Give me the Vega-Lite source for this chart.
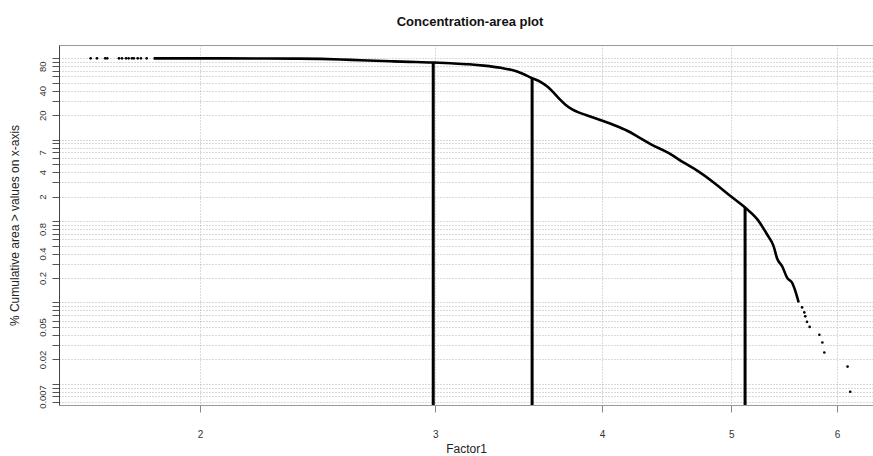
{
  "$schema": "https://vega.github.io/schema/vega-lite/v6.json",
  "width": 814,
  "height": 360,
  "autosize": "none",
  "padding": {"left": 59, "top": 45, "right": 0, "bottom": 51},
  "background": "white",
  "title": {"text": "Concentration-area plot", "font": "Liberation Sans", "fontSize": 13, "fontWeight": "bold", "color": "#111", "anchor": "middle", "dx": 4, "offset": 16},
  "config": {"view": {"stroke": "#9a9a9a", "strokeWidth": 1}, "font": "Liberation Sans"},
  "datasets": {
    "curve": [
      {"x": 1.846, "y": 99.99}, {"x": 1.9, "y": 99.98}, {"x": 2.0, "y": 99.95}, {"x": 2.083, "y": 99.9},
      {"x": 2.22, "y": 99.7}, {"x": 2.35, "y": 99.3}, {"x": 2.462, "y": 98.5}, {"x": 2.55, "y": 97.0},
      {"x": 2.638, "y": 94.8}, {"x": 2.792, "y": 91.9}, {"x": 2.9, "y": 90.2}, {"x": 2.99, "y": 89.0},
      {"x": 3.082, "y": 87.0}, {"x": 3.18, "y": 84.5}, {"x": 3.262, "y": 81.5}, {"x": 3.36, "y": 76.5},
      {"x": 3.455, "y": 69.1}, {"x": 3.546, "y": 57.2}, {"x": 3.6, "y": 51.0},
      {"x": 3.64, "y": 45.0}, {"x": 3.68, "y": 38.0}, {"x": 3.715, "y": 32.0}, {"x": 3.756, "y": 27.0},
      {"x": 3.8, "y": 23.6}, {"x": 3.85, "y": 21.4}, {"x": 3.92, "y": 19.3},
      {"x": 3.998, "y": 17.2}, {"x": 4.09, "y": 15.0}, {"x": 4.178, "y": 12.9}, {"x": 4.26, "y": 10.8},
      {"x": 4.35, "y": 8.85}, {"x": 4.502, "y": 6.67}, {"x": 4.6, "y": 5.3},
      {"x": 4.714, "y": 4.18}, {"x": 4.85, "y": 2.99}, {"x": 4.99, "y": 2.05}, {"x": 5.12, "y": 1.47},
      {"x": 5.23, "y": 1.05}, {"x": 5.32, "y": 0.68}, {"x": 5.378, "y": 0.494}, {"x": 5.41, "y": 0.35},
      {"x": 5.458, "y": 0.279}, {"x": 5.506, "y": 0.2006}, {"x": 5.553, "y": 0.175}, {"x": 5.584, "y": 0.138},
      {"x": 5.616, "y": 0.1}
    ],
    "dots": [
      {"x": 1.656, "y": 100}, {"x": 1.674, "y": 100}, {"x": 1.698, "y": 100}, {"x": 1.704, "y": 100},
      {"x": 1.739, "y": 100}, {"x": 1.748, "y": 100}, {"x": 1.76, "y": 100}, {"x": 1.768, "y": 100},
      {"x": 1.778, "y": 100}, {"x": 1.784, "y": 100}, {"x": 1.796, "y": 100}, {"x": 1.806, "y": 100},
      {"x": 1.824, "y": 100},
      {"x": 5.649, "y": 0.087}, {"x": 5.671, "y": 0.0756}, {"x": 5.68, "y": 0.0676}, {"x": 5.697, "y": 0.0578},
      {"x": 5.723, "y": 0.0501}, {"x": 5.82, "y": 0.0402}, {"x": 5.85, "y": 0.0322}, {"x": 5.87, "y": 0.0243},
      {"x": 6.11, "y": 0.0163}, {"x": 6.138, "y": 0.008}
    ],
    "thresholds": [
      {"x": 2.99, "y": 89.0}, {"x": 3.546, "y": 57.2}, {"x": 5.12, "y": 1.47}
    ]
  },
  "encoding": {
    "x": {
      "field": "x", "type": "quantitative",
      "scale": {"type": "log", "domain": [1.568, 6.384], "nice": false},
      "axis": {
        "values": [2, 3, 4, 5, 6], "format": "~g", "grid": true, "gridDash": [1, 2], "gridColor": "#b5b5b5",
        "domain": false, "tickColor": "#888", "tickSize": 7, "labelFontSize": 10, "labelColor": "#333",
        "labelPadding": 17, "labelFlush": false, "labelOverlap": false,
        "title": "Factor1", "titleFontSize": 12, "titleFontWeight": "normal", "titleColor": "#222", "titlePadding": 4
      }
    },
    "y": {
      "field": "y", "type": "quantitative",
      "scale": {"type": "log", "domain": [0.0055, 146], "nice": false},
      "axis": {
        "values": [0.006,0.007,0.008,0.009,0.01,0.02,0.03,0.04,0.05,0.06,0.07,0.08,0.09,0.1,0.2,0.3,0.4,0.5,0.6,0.7,0.8,0.9,1,2,3,4,5,6,7,8,9,10,20,30,40,50,60,70,80,90,100],
        "labelExpr": "indexof([0.007,0.02,0.05,0.2,0.4,0.8,2,4,7,20,40,80], datum.value) >= 0 ? format(datum.value, '~g') : ''",
        "grid": true, "gridDash": [1, 2], "gridColor": "#b5b5b5",
        "domain": true, "domainColor": "#444", "tickColor": "#555", "tickSize": 7,
        "labelAngle": -90, "labelAlign": "center", "labelBaseline": "alphabetic", "labelPadding": 7,
        "labelFontSize": 9.5, "labelColor": "#333", "labelOverlap": false, "labelBound": false, "labelFlush": false,
        "title": "% Cumulative area > values on x-axis", "titleFontSize": 12, "titleFontWeight": "normal",
        "titleColor": "#222", "titlePadding": 16
      }
    }
  },
  "layer": [
    {
      "data": {"name": "thresholds"},
      "mark": {"type": "rule", "color": "#000", "strokeWidth": 3},
      "encoding": {"y2": {"datum": 0.0055}}
    },
    {
      "data": {"name": "curve"},
      "mark": {"type": "line", "color": "#000", "strokeWidth": 2.6, "interpolate": "monotone"}
    },
    {
      "data": {"name": "dots"},
      "mark": {"type": "point", "filled": true, "color": "#000", "size": 7, "opacity": 1}
    }
  ]
}
